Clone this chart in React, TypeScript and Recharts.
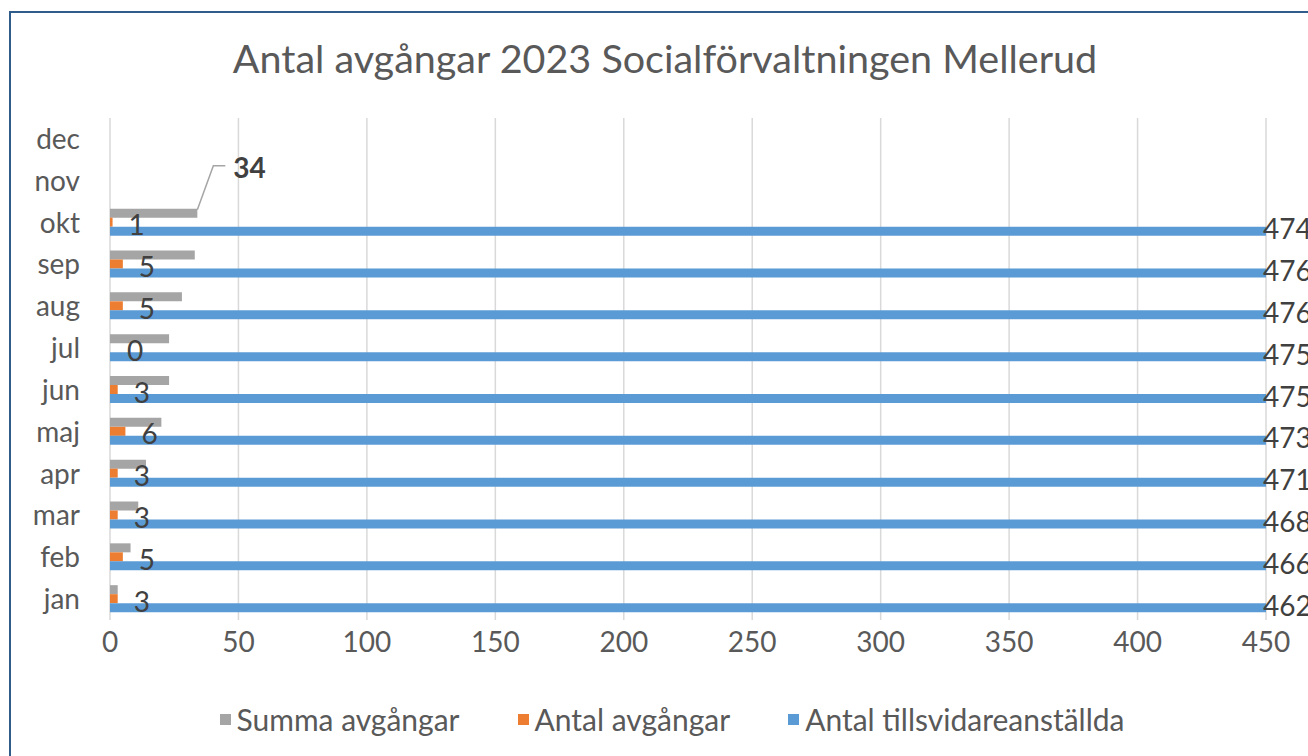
import { BarChart, Bar, XAxis, YAxis, CartesianGrid, Legend, LabelList } from 'recharts';

const months = ['jan', 'feb', 'mar', 'apr', 'maj', 'jun', 'jul', 'aug', 'sep', 'okt', 'nov', 'dec'];
const summaAvgangar = [3, 8, 11, 14, 20, 23, 23, 28, 33, 34, null, null];
const antalAvgangar = [3, 5, 3, 3, 6, 3, 0, 5, 5, 1, null, null];
const tillsvidare = [462, 466, 468, 471, 473, 475, 475, 476, 476, 474, null, null];
const seriesNames = ['Summa avgångar', 'Antal avgångar', 'Antal tillsvidareanställda'];
const xTicks = [0, 50, 100, 150, 200, 250, 300, 350, 400, 450];
const XMAX = 450;

const data = months.map((m, i) => ({
  month: m,
  summa: summaAvgangar[i],
  antal: antalAvgangar[i],
  tills: tillsvidare[i],
}));

const FONT = 'Lato, sans-serif';
const TEXT = '#595959';
const LABEL = '#404040';

function box(props: any) {
  const vb = props.viewBox || {};
  return {
    x: props.x ?? vb.x,
    y: props.y ?? vb.y,
    width: props.width ?? vb.width,
    height: props.height ?? vb.height,
  };
}

function antalText(x: number, y: number, value: number) {
  return (
    <text x={x} y={y} fill={LABEL} fontSize={28} fontFamily={FONT} dominantBaseline="central">
      {value}
    </text>
  );
}

// only the last filled month gets the bold label with a leader line
function SumLabel(props: any) {
  const { value, index } = props;
  if (value == null) return null;
  const { x, y, width, height } = box(props);
  // a zero-width orange bar gets no label of its own, so draw it from here
  const zero = antalAvgangar[index] === 0 ? antalText(x + 17, y + height * 1.5 + 2, 0) : null;
  if (index !== 9) return zero;
  const ex = x + width;
  return (
    <g>
      <polyline
        points={`${ex},${y + 1} ${ex + 16},${y - 43} ${ex + 28},${y - 43}`}
        fill="none"
        stroke="#a5a5a5"
        strokeWidth={1.5}
      />
      <text x={ex + 36} y={y - 42} fill={LABEL} fontSize={28} fontWeight="bold" fontFamily={FONT} dominantBaseline="central">
        {value}
      </text>
    </g>
  );
}

function AntalLabel(props: any) {
  const { value } = props;
  if (value == null || value === 0) return null;
  const { x, y, width, height } = box(props);
  return antalText(x + width + 16, y + height / 2 + 2, value);
}

// bars are cut at the axis max, so the label sits at the cut
function TillsLabel(props: any) {
  const { value } = props;
  if (!value) return null;
  const { x, y, width, height } = box(props);
  const end = x + (width * Math.min(value, XMAX)) / value;
  return (
    <text x={end - 3} y={y + height / 2 - 3} fill={LABEL} fontSize={28} fontFamily={FONT} dominantBaseline="central">
      {value}
    </text>
  );
}

function renderLegend(props: any) {
  const items = [...(props.payload || [])].sort(
    (a: any, b: any) => seriesNames.indexOf(a.value) - seriesNames.indexOf(b.value)
  );
  return (
    <div style={{ display: 'flex', justifyContent: 'center', alignItems: 'center', fontFamily: FONT, fontSize: 30, color: TEXT }}>
      {items.map((it: any, i: number) => (
        <div key={i} style={{ display: 'flex', alignItems: 'center', marginRight: i < items.length - 1 ? 58 : 0 }}>
          <span style={{ display: 'inline-block', width: 11, height: 11, background: it.color, marginRight: 6 }} />
          <span>{it.value}</span>
        </div>
      ))}
    </div>
  );
}

export default function App() {
  return (
    <div style={{ position: 'absolute', left: 0, top: 0, width: 1308, height: 756, overflow: 'hidden', background: '#fff' }}>
      <div
        style={{
          position: 'absolute',
          left: 9,
          top: 11,
          width: 1400,
          height: 800,
          borderTop: '2px solid #2f5c8b',
          borderLeft: '2px solid #2f5c8b',
        }}
      />
      <div
        style={{
          position: 'absolute',
          left: 0,
          top: 34,
          width: 1330,
          textAlign: 'center',
          fontFamily: FONT,
          fontSize: 39.5,
          color: TEXT,
        }}
      >
        Antal avgångar 2023 Socialförvaltningen Mellerud
      </div>
      <div style={{ position: 'absolute', left: 0, top: 0 }}>
        <BarChart
          width={1308}
          height={756}
          data={data}
          layout="vertical"
          margin={{ top: 118, right: 42, bottom: 76, left: 0 }}
          barSize={9}
          barGap={0}
        >
          <CartesianGrid horizontal={false} stroke="#d9d9d9" strokeWidth={1.5} />
          <XAxis
            type="number"
            domain={[0, XMAX]}
            ticks={xTicks}
            allowDataOverflow
            axisLine={false}
            tickLine={false}
            height={60}
            tickMargin={6}
            tick={{ fill: TEXT, fontSize: 28, fontFamily: FONT }}
          />
          <YAxis
            type="category"
            dataKey="month"
            reversed
            width={110}
            axisLine={false}
            tickLine={false}
            tickSize={0}
            tickMargin={30}
            tick={{ fill: TEXT, fontSize: 28, fontFamily: FONT }}
          />
          <Legend
            layout="horizontal"
            verticalAlign="middle"
            align="center"
            content={renderLegend}
            wrapperStyle={{ top: 701, left: 0, width: 1344 }}
          />
          <Bar dataKey="summa" name={seriesNames[0]} fill="#a5a5a5" isAnimationActive={false}>
            <LabelList dataKey="summa" content={SumLabel} />
          </Bar>
          <Bar dataKey="antal" name={seriesNames[1]} fill="#ed7d31" isAnimationActive={false}>
            <LabelList dataKey="antal" content={AntalLabel} />
          </Bar>
          <Bar dataKey="tills" name={seriesNames[2]} fill="#5b9bd5" isAnimationActive={false}>
            <LabelList dataKey="tills" content={TillsLabel} />
          </Bar>
        </BarChart>
      </div>
    </div>
  );
}
